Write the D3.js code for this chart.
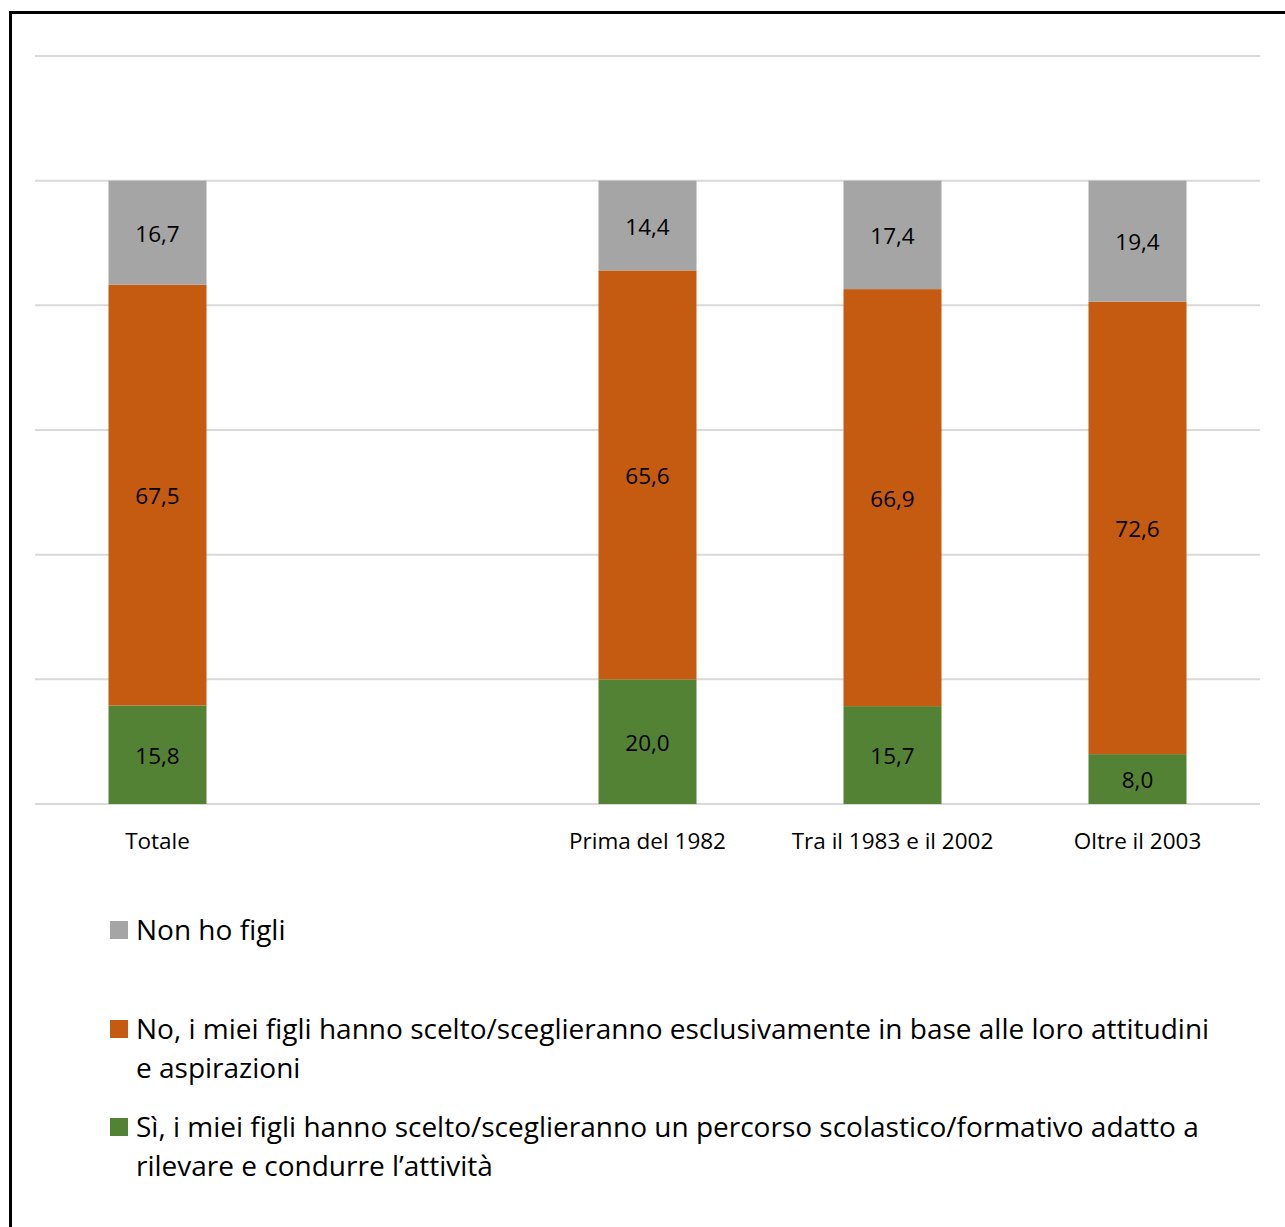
<!DOCTYPE html>
<html>
<head>
<meta charset="utf-8">
<script src="https://cdn.jsdelivr.net/npm/d3@7"></script>
<style>
  html, body { margin: 0; padding: 0; background: #fff; }
  svg { display: block; font-family: "Open Sans", "Noto Sans", sans-serif; }
</style>
</head>
<body>
<svg id="chart" width="1285" height="1227"></svg>
<script>
// Categories along the x axis (one empty slot separates the total from the periods)
const categories = ["Totale", "", "Prima del 1982", "Tra il 1983 e il 2002", "Oltre il 2003"];

// Series values (%), one per category; null where the slot is empty
const siValues   = [15.8, null, 20.0, 15.7, 8.0];
const noValues   = [67.5, null, 65.6, 66.9, 72.6];
const nonHoFigli = [16.7, null, 14.4, 17.4, 19.4];

// Gridline values on the (unlabelled) value axis
const yTicks = [0, 20, 40, 60, 80, 100, 120];

// Series names, legend lines and colours (bottom to top in the stack)
const seriesKeys   = ["si", "no", "nonfigli"];
const seriesColors = ["#548235", "#c55a11", "#a5a5a5"];
const legendLines  = {
  nonfigli: ["Non ho figli"],
  no: ["No, i miei figli hanno scelto/sceglieranno esclusivamente in base alle loro attitudini",
       "e aspirazioni"],
  si: ["Sì, i miei figli hanno scelto/sceglieranno un percorso scolastico/formativo adatto a",
       "rilevare e condurre l\u2019attività"]
};
const legendOrder = ["nonfigli", "no", "si"];

const rows = categories.map((c, i) => ({
  cat: c || " ",
  si: siValues[i], no: noValues[i], nonfigli: nonHoFigli[i]
}));

const svg = d3.select("#chart");

// Outer frame
svg.append("rect")
  .attr("x", 10.5).attr("y", 12.5)
  .attr("width", 1400).attr("height", 1400)
  .attr("fill", "none").attr("stroke", "#000").attr("stroke-width", 3);

const plot = { left: 35, right: 1260, top: 56, bottom: 804 };

const x = d3.scaleBand()
  .domain(rows.map(d => d.cat))
  .range([plot.left, plot.right])
  .paddingInner(0.6).paddingOuter(0.3);

const y = d3.scaleLinear().domain([0, 120]).range([plot.bottom, plot.top]);

const color = d3.scaleOrdinal().domain(seriesKeys).range(seriesColors);

// Horizontal gridlines
svg.append("g")
  .selectAll("line")
  .data(yTicks)
  .join("line")
  .attr("x1", plot.left).attr("x2", plot.right)
  .attr("y1", d => y(d)).attr("y2", d => y(d))
  .attr("stroke", "#d9d9d9").attr("stroke-width", 2);

// Stacked bars
const stack = d3.stack().keys(seriesKeys).value((d, k) => d[k] || 0);
const layers = stack(rows);

const layerG = svg.append("g")
  .selectAll("g")
  .data(layers)
  .join("g")
  .attr("fill", d => color(d.key));

layerG.selectAll("rect")
  .data(d => d.filter(s => s.data[d.key] != null).map(s => ({ s, key: d.key })))
  .join("rect")
  .attr("x", d => x(d.s.data.cat))
  .attr("width", x.bandwidth())
  .attr("y", d => y(d.s[1]))
  .attr("height", d => y(d.s[0]) - y(d.s[1]));

// Value labels centred in each segment
const fmt = v => d3.format(".1f")(v).replace(".", ",");
layerG.selectAll("text")
  .data(d => d.filter(s => s.data[d.key] != null).map(s => ({ s, key: d.key })))
  .join("text")
  .attr("x", d => x(d.s.data.cat) + x.bandwidth() / 2)
  .attr("y", d => y((d.s[0] + d.s[1]) / 2))
  .attr("dy", "0.4em")
  .attr("text-anchor", "middle")
  .attr("fill", "#000")
  .attr("font-size", 22.5)
  .text(d => fmt(d.s.data[d.key]));

// Category axis labels
const xAxis = d3.axisBottom(x).tickSize(0).tickPadding(0);
const axisG = svg.append("g")
  .attr("transform", `translate(0,${plot.bottom})`)
  .call(xAxis);
axisG.select(".domain").remove();
axisG.selectAll("text")
  .attr("y", 36)
  .attr("dy", "0.38em")
  .attr("fill", "#000")
  .attr("font-size", 22.5)
  .style("font-family", "'Open Sans', 'Noto Sans', sans-serif");

// Legend
const legendY = { nonfigli: 930, no: 1029, si: 1127 };
const lg = svg.append("g");
legendOrder.forEach(k => {
  const yc = legendY[k];
  lg.append("rect")
    .attr("x", 110).attr("y", yc - 9)
    .attr("width", 18).attr("height", 18)
    .attr("fill", color(k));
  const t = lg.append("text")
    .attr("x", 136).attr("y", yc)
    .attr("fill", "#000")
    .attr("font-size", 28);
  legendLines[k].forEach((line, i) => {
    t.append("tspan")
      .attr("x", 136)
      .attr("dy", i === 0 ? "0.36em" : 39)
      .text(line);
  });
});
</script>
</body>
</html>
